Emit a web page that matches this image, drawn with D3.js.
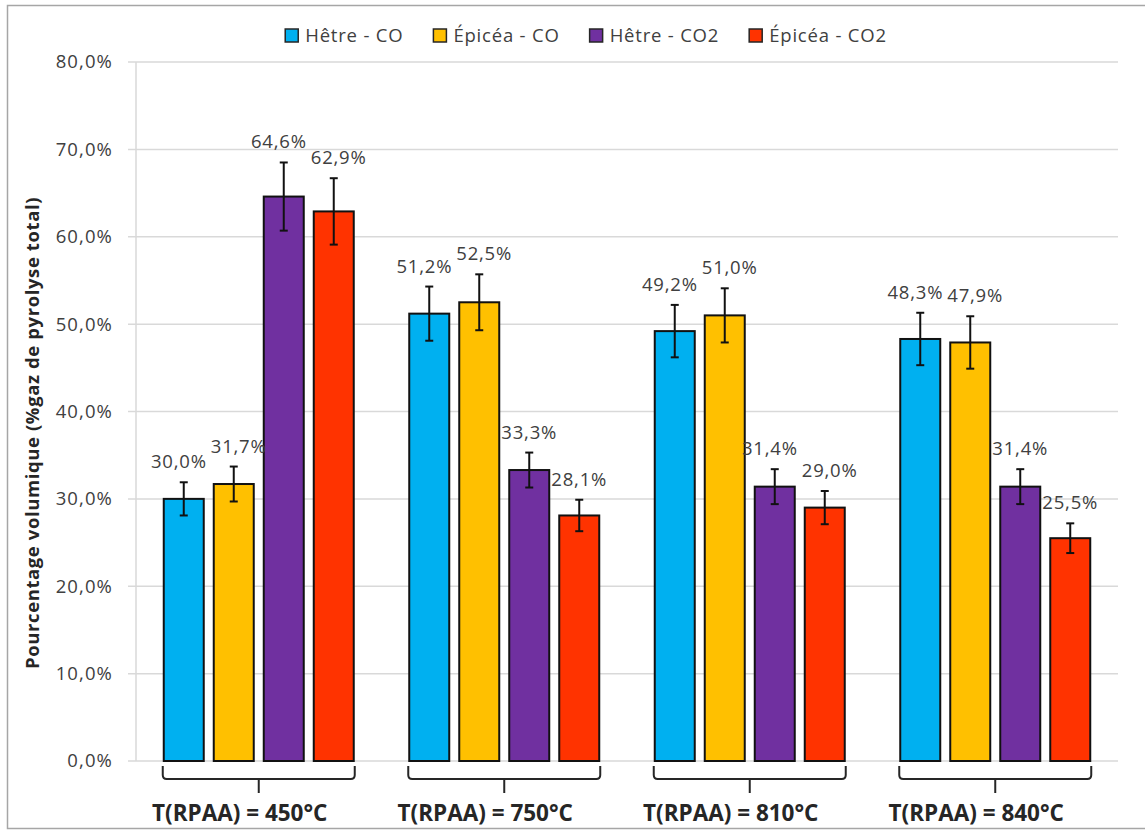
<!DOCTYPE html>
<html><head><meta charset="utf-8">
<script src="https://cdn.jsdelivr.net/npm/d3@7"></script>
<style>body{margin:0;background:#fff}svg{display:block}</style>
</head><body>
<svg id="c" width="1145" height="832"></svg>
<script>
const categories = ["T(RPAA) = 450°C", "T(RPAA) = 750°C", "T(RPAA) = 810°C", "T(RPAA) = 840°C"];
const seriesNames = ["Hêtre - CO", "Épicéa - CO", "Hêtre - CO2", "Épicéa - CO2"];
const hetreCO = [30.0, 51.2, 49.2, 48.3];
const epiceaCO = [31.7, 52.5, 51.0, 47.9];
const hetreCO2 = [64.6, 33.3, 31.4, 31.4];
const epiceaCO2 = [62.9, 28.1, 29.0, 25.5];
const errHetreCO = [1.9, 3.1, 3.0, 3.0];
const errEpiceaCO = [2.0, 3.2, 3.1, 3.0];
const errHetreCO2 = [3.9, 2.0, 2.0, 2.0];
const errEpiceaCO2 = [3.8, 1.8, 1.9, 1.7];
const yTicks = [0, 10, 20, 30, 40, 50, 60, 70, 80];
const colors = ["#00b0f0", "#ffc000", "#7030a0", "#ff3300"];

const seriesValues = [hetreCO, epiceaCO, hetreCO2, epiceaCO2];
const seriesErr = [errHetreCO, errEpiceaCO, errHetreCO2, errEpiceaCO2];
const fmt = v => v.toFixed(1).replace(".", ",");
const FONT = "'Open Sans', sans-serif";

const svg = d3.select("#c");
// outer frame
svg.append("rect").attr("x", 7.5).attr("y", 5.5).attr("width", 1160).attr("height", 823)
  .attr("fill", "none").attr("stroke", "#a6a6a6").attr("stroke-width", 1.5);

const plot = {left: 136, right: 1118, top: 62, bottom: 761};
const y = d3.scaleLinear().domain([0, 80]).range([plot.bottom, plot.top]);
const x0 = d3.scaleBand().domain(categories).range([plot.left, plot.right]);
const groupW = 200;
const x1 = d3.scaleBand().domain(seriesNames).range([0, groupW]).paddingInner(0.2).paddingOuter(0.1);

// gridlines
svg.append("g").selectAll("line").data(yTicks).join("line")
  .attr("x1", plot.left - 8).attr("x2", plot.right)
  .attr("y1", d => y(d)).attr("y2", d => y(d))
  .attr("stroke", "#d9d9d9").attr("stroke-width", 1.5);
// y axis line
svg.append("line").attr("x1", plot.left).attr("x2", plot.left)
  .attr("y1", plot.top).attr("y2", plot.bottom).attr("stroke", "#d9d9d9").attr("stroke-width", 1.5);

// tick labels
svg.append("g").selectAll("text").data(yTicks).join("text")
  .attr("x", 113).attr("y", d => y(d)).attr("dy", "0.35em")
  .attr("text-anchor", "end").attr("font-family", FONT).attr("font-size", 18.5)
  .attr("letter-spacing", 1.1)
  .attr("fill", "#404040").text(d => fmt(d) + "%");

// axis title
svg.append("text").attr("transform", "translate(39,433) rotate(-90)")
  .attr("text-anchor", "middle").attr("font-family", FONT).attr("font-weight", 700)
  .attr("font-size", 18.5).attr("letter-spacing", 0.6).attr("fill", "#262626")
  .text("Pourcentage volumique (%gaz de pyrolyse total)");

const rows = [];
categories.forEach((c, ci) => seriesNames.forEach((s, si) => rows.push({
  c, ci, s, si, v: seriesValues[si][ci], e: seriesErr[si][ci]
})));
const gx = c => x0(c) + (x0.bandwidth() - groupW) / 2;

const bars = svg.append("g");
bars.selectAll("rect").data(rows).join("rect")
  .attr("x", d => gx(d.c) + x1(d.s)).attr("width", x1.bandwidth())
  .attr("y", d => y(d.v)).attr("height", d => y(0) - y(d.v))
  .attr("fill", d => colors[d.si]).attr("stroke", "#111").attr("stroke-width", 2);

// error bars
const eb = svg.append("g").attr("stroke", "#111").attr("stroke-width", 2);
rows.forEach(d => {
  const cx = gx(d.c) + x1(d.s) + x1.bandwidth() / 2;
  eb.append("line").attr("x1", cx).attr("x2", cx).attr("y1", y(d.v + d.e)).attr("y2", y(d.v - d.e));
  eb.append("line").attr("x1", cx - 4).attr("x2", cx + 4).attr("y1", y(d.v + d.e)).attr("y2", y(d.v + d.e));
  eb.append("line").attr("x1", cx - 4).attr("x2", cx + 4).attr("y1", y(d.v - d.e)).attr("y2", y(d.v - d.e));
});

// data labels
const labels = svg.append("g").selectAll("text").data(rows).join("text")
  .attr("x", d => gx(d.c) + x1(d.s) + x1.bandwidth() / 2)
  .attr("y", d => y(d.v + d.e) - 14)
  .attr("text-anchor", "middle").attr("font-family", FONT).attr("font-size", 18.5)
  .attr("letter-spacing", 0.8)
  .attr("fill", "#404040").text(d => fmt(d.v) + "%");
// nudge neighbouring labels apart if they collide
const nodes = labels.nodes();
for (let i = 1; i < nodes.length; i++) {
  if (rows[i].ci !== rows[i - 1].ci) continue;
  const a = nodes[i - 1].getBBox(), b = nodes[i].getBBox();
  const ov = a.x + a.width + 4 - b.x;
  const vov = Math.min(a.y + a.height, b.y + b.height) - Math.max(a.y, b.y);
  if (ov > 0 && vov > 0) {
    nodes[i - 1].setAttribute("x", +nodes[i - 1].getAttribute("x") - ov / 2);
    nodes[i].setAttribute("x", +nodes[i].getAttribute("x") + ov / 2);
  }
}

// category brackets
const br = svg.append("g").attr("fill", "none").attr("stroke", "#262626").attr("stroke-width", 2);
categories.forEach(c => {
  const l = gx(c) + x1(seriesNames[0]) - 1;
  const r = gx(c) + x1(seriesNames[3]) + x1.bandwidth() + 1;
  const m = (l + r) / 2;
  const t = 766, h = 779, rr = 4;
  br.append("path").attr("d",
    `M${l},${t} V${h - rr} Q${l},${h} ${l + rr},${h} H${r - rr} Q${r},${h} ${r},${h - rr} V${t}`);
  br.append("line").attr("x1", m).attr("x2", m).attr("y1", h).attr("y2", 793);
});
svg.append("g").selectAll("text").data(categories).join("text")
  .attr("x", d => gx(d) + groupW / 2 - 19).attr("y", 821)
  .attr("text-anchor", "middle").attr("font-family", FONT).attr("font-weight", 700)
  .attr("font-size", 22.5).attr("fill", "#262626").text(d => d);

// legend
const leg = svg.append("g");
let lx = 0;
const GAP = 30;
seriesNames.forEach((s, i) => {
  const g = leg.append("g");
  g.append("rect").attr("x", 0).attr("y", 29).attr("width", 13).attr("height", 13)
    .attr("fill", colors[i]).attr("stroke", "#262626").attr("stroke-width", 1.5);
  const t = g.append("text").attr("x", 20).attr("y", 42).attr("font-family", FONT)
    .attr("font-size", 18.5).attr("letter-spacing", 0.8).attr("fill", "#404040").text(s);
  const w = 20 + t.node().getComputedTextLength();
  g.attr("transform", `translate(${lx},0)`);
  lx += w + GAP;
});
const totalW = lx - GAP;
leg.attr("transform", `translate(${586 - totalW / 2},0)`);
</script>
</body></html>
